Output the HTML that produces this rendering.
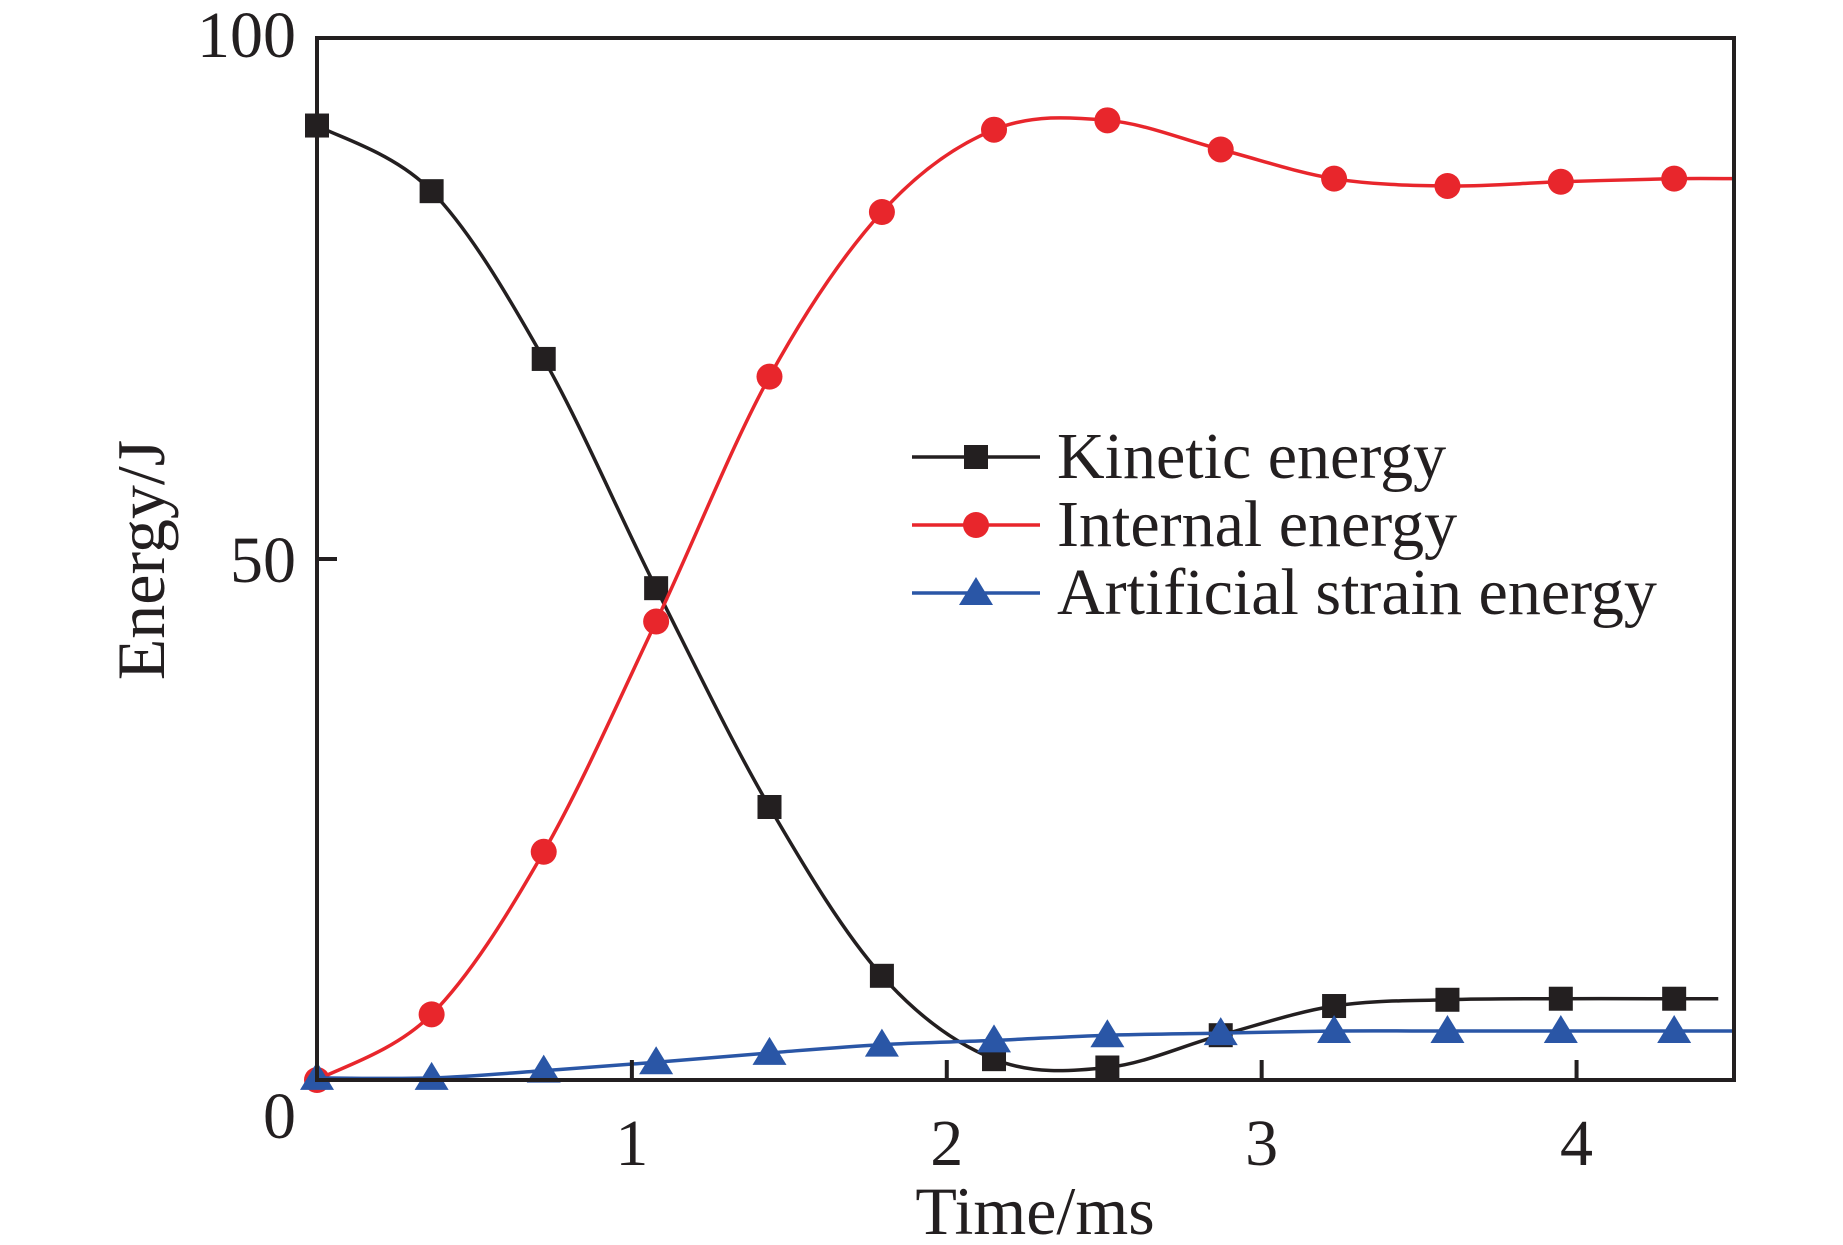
<!DOCTYPE html>
<html><head><meta charset="utf-8"><style>
html,body{margin:0;padding:0;background:#fff}
svg{display:block}
text{font-family:"Liberation Serif",serif;fill:#231f20}
</style></head><body>
<svg id="c" width="1843" height="1245" viewBox="0 0 1843 1245"></svg>
<script>
const times=[0,0.364,0.72,1.077,1.437,1.794,2.15,2.51,2.87,3.23,3.59,3.95,4.31];
const kinetic=[91.6,85.3,69.2,47.2,26.2,10.0,2.0,1.2,4.3,7.1,7.7,7.8,7.8];
const internal=[0,6.3,21.9,44.0,67.5,83.3,91.2,92.1,89.3,86.5,85.8,86.2,86.5];
const artificial=[0.2,0.2,0.9,1.7,2.6,3.4,3.8,4.3,4.5,4.7,4.7,4.7,4.7];
const xTicks=[1,2,3,4];
const yTicks=[0,50,100];
const L=317,R=1734,T=38,B=1080,XMAX=4.5,YMAX=100;
const sx=v=>L+v/XMAX*(R-L), sy=v=>B-v/YMAX*(B-T);
const svg=document.getElementById('c');const NS='http://www.w3.org/2000/svg';
function mk(tag,a,p){const e=document.createElementNS(NS,tag);for(const k in a)e.setAttribute(k,a[k]);(p||svg).appendChild(e);return e;}
function spline(xs,ys){const P=xs.map((x,i)=>[sx(x),sy(ys[i])]);let d='M'+P[0][0]+','+P[0][1];
for(let i=0;i<P.length-1;i++){const p0=P[Math.max(0,i-1)],p1=P[i],p2=P[i+1],p3=P[Math.min(P.length-1,i+2)];
d+=' C'+(p1[0]+(p2[0]-p0[0])/6)+','+(p1[1]+(p2[1]-p0[1])/6)+' '+(p2[0]-(p3[0]-p1[0])/6)+','+(p2[1]-(p3[1]-p1[1])/6)+' '+p2[0]+','+p2[1];}return d;}
function marker(type,cx,cy,col,g){
 if(type==='sq')return mk('rect',{x:cx-12,y:cy-12,width:24,height:24,fill:col},g);
 if(type==='ci')return mk('circle',{cx:cx,cy:cy,r:13,fill:col},g);
 return mk('polygon',{points:(cx)+','+(cy-16)+' '+(cx-17)+','+(cy+12)+' '+(cx+17)+','+(cy+12),fill:col},g);}
const series=[
 {name:'kinetic',vals:kinetic,col:'#231f20',m:'sq',ext:4.45,label:'Kinetic energy'},
 {name:'internal',vals:internal,col:'#e8262c',m:'ci',ext:4.5,label:'Internal energy'},
 {name:'artificial',vals:artificial,col:'#2a56a6',m:'tr',ext:4.5,label:'Artificial strain energy'}];
series.forEach(s=>{
 const g=mk('g',{});
 
 
 const xs=times.concat([s.ext]),ys=s.vals.concat([s.vals[s.vals.length-1]]);
 const p=mk('path',{d:spline(xs,ys),fill:'none',stroke:s.col,'stroke-width':3.5},g);
 
 
 times.forEach((t,i)=>{const m=marker(s.m,sx(t),sy(s.vals[i]),s.col,g);
  
  });
});
const fr=mk('rect',{x:L,y:T,width:R-L,height:B-T,fill:'none',stroke:'#231f20','stroke-width':4});


xTicks.forEach(v=>{const l=mk('line',{x1:sx(v),x2:sx(v),y1:B,y2:B-20,stroke:'#231f20','stroke-width':4});
 
 
 const t=mk('text',{x:sx(v),y:1165,'text-anchor':'middle','font-size':66});t.textContent=v;
 
 });
yTicks.forEach(v=>{
 if(v===50){const l=mk('line',{x1:L,x2:L+20,y1:sy(v),y2:sy(v),stroke:'#231f20','stroke-width':4});
 
 }
 const yy=v===0?1138:(v===100?57:sy(v)+23);
 const t=mk('text',{x:296,y:yy,'text-anchor':'end','font-size':66});t.textContent=v;
 
 });
const xt=mk('text',{x:1035,y:1234,'text-anchor':'middle','font-size':68});xt.textContent='Time/ms';


const yt=mk('text',{x:0,y:0,'text-anchor':'middle','font-size':68,transform:'translate(164,560) rotate(-90)'});yt.textContent='Energy/J';


const lg=mk('g',{});


series.forEach((s,i)=>{const y=457+i*68;const e=mk('g',{},lg);
 
 
 mk('line',{x1:912,x2:1040,y1:y,y2:y,stroke:s.col,'stroke-width':3.5},e);
 marker(s.m,976,y,s.col,e);
 const t=mk('text',{x:1057,y:y+21,'font-size':66},e);t.textContent=s.label;});
</script>
</body></html>
